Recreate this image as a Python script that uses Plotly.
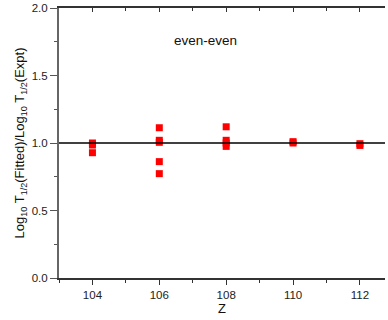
import plotly.graph_objects as go

z_vals = [104, 104, 104, 106, 106, 106, 106, 106, 108, 108, 108, 108, 110, 110, 112, 112]
ratio_vals = [1.0, 0.985, 0.928, 1.113, 1.02, 1.005, 0.862, 0.773, 1.12, 1.02, 1.0, 0.975, 1.01, 1.0, 0.995, 0.982]
x_ticks = [104, 106, 108, 110, 112]
y_ticks = [0.0, 0.5, 1.0, 1.5, 2.0]
y_tick_labels = ["0.0", "0.5", "1.0", "1.5", "2.0"]
ref_value = 1.0
x_range = [103, 112.75]
y_range = [0, 2.0]

fig = go.Figure()
fig.add_trace(go.Scatter(
    x=z_vals, y=ratio_vals, mode="markers",
    marker=dict(symbol="square", size=7, color="#ff0000", line=dict(width=0)),
    showlegend=False, cliponaxis=False))
fig.add_trace(go.Scatter(x=[x_range[0]], y=[y_range[0]], xaxis="x2", mode="markers",
                         marker=dict(opacity=0), showlegend=False, hoverinfo="skip"))

fig.add_shape(type="line", xref="x", yref="y", x0=x_range[0], x1=x_range[1],
              y0=ref_value, y1=ref_value, line=dict(color="black", width=1.5))

fig.add_annotation(x=107.37, y=1.763, text="even-even", showarrow=False,
                   font=dict(family="Arial, Liberation Sans", size=13.5, color="#111"))

axis_font = dict(family="Arial, Liberation Sans", size=11.5, color="#222")
fig.update_layout(
    width=388, height=320,
    margin=dict(l=59, r=3, t=8, b=42),
    plot_bgcolor="white", paper_bgcolor="white",
    font=axis_font,
    xaxis=dict(range=x_range, tickvals=x_ticks, ticks="outside", ticklen=5, automargin=False,
               tickcolor="#333", showline=True, linecolor="#333", linewidth=1.5,
               showgrid=False, zeroline=False,
               minor=dict(dtick=1, tick0=103, ticks="outside", ticklen=3, tickcolor="#333"),
               title=dict(text="Z", font=dict(size=13, family="Arial, Liberation Sans", color="#111"), standoff=0)),
    xaxis2=dict(range=x_range, overlaying="x", side="top", tickvals=x_ticks, ticks="inside",
                ticklen=4, tickcolor="#333", showline=True, linecolor="#333", linewidth=1.5,
                automargin=False,
                showticklabels=False, showgrid=False, zeroline=False,
                minor=dict(dtick=1, tick0=103, ticks="inside", ticklen=3, tickcolor="#333")),
    yaxis=dict(range=y_range, tickvals=y_ticks, ticktext=y_tick_labels, ticks="outside",
               ticklen=7, tickcolor="#555", showline=True, linecolor="#666", linewidth=2,
               showgrid=False, zeroline=False, automargin=False, ticklabeloverflow="allow",
               minor=dict(dtick=0.25, tick0=0, ticks="outside", ticklen=3, tickcolor="#555"),
               title=dict(text="Log<sub>10</sub> T<sub>1/2</sub>(Fitted)/Log<sub>10</sub> T<sub>1/2</sub>(Expt)",
                          font=dict(size=13, family="Arial, Liberation Sans", color="#111"), standoff=4)),
)

fig.write_html("out.html", config={"displayModeBar": False},
               post_script="document.body.style.margin='0';")
